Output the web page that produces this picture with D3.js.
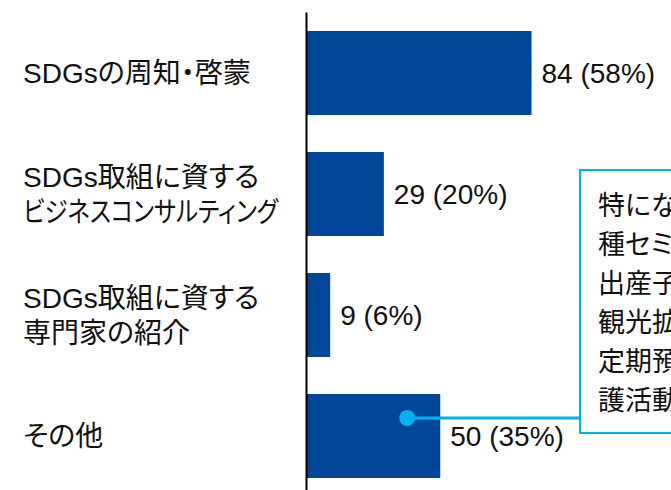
<!DOCTYPE html>
<html>
<head>
<meta charset="utf-8">
<script src="https://cdn.jsdelivr.net/npm/d3@7"></script>
<style>
  html, body { margin: 0; padding: 0; background: #fff; overflow: hidden; }
  svg { display: block; }
  text { font-family: "Liberation Sans", Arial, "Noto Sans CJK JP", sans-serif; font-feature-settings: "palt"; fill: #111; }
</style>
</head>
<body>
<svg width="671" height="490"></svg>
<script>
// data
var categories = ["SDGsの周知・啓蒙", "SDGs取組に資する\nビジネスコンサルティング", "SDGs取組に資する\n専門家の紹介", "その他"];
var counts = [84, 29, 9, 50];
var percents = [58, 20, 6, 35];
var noteLines = ["特になし、各", "種セミナー開催、", "出産子育て支援、", "観光拡大支援、", "定期預金、介", "護活動など"];

var svg = d3.select("svg"),
    width = +svg.attr("width"),
    height = +svg.attr("height");

var barColor = "#00479a",
    noteColor = "#00b0f0";

var xScale = d3.scaleLinear().domain([0, 100]).range([306, 306 + 268.5]);
var yScale = d3.scaleBand()
    .domain(categories)
    .range([12.5, 496.5])
    .paddingInner(0.306)
    .paddingOuter(0.153);

var data = categories.map(function(c, i){
    return {cat: c, n: counts[i], pct: percents[i]};
});

// bars
svg.selectAll(".bar")
    .data(data)
    .enter()
    .append("rect")
    .attr("class", "bar")
    .attr("x", xScale(0))
    .attr("y", function(d){ return yScale(d.cat) })
    .attr("width", function(d){ return xScale(d.n) - xScale(0) })
    .attr("height", yScale.bandwidth())
    .attr("fill", barColor);

// value labels
svg.selectAll(".val")
    .data(data)
    .enter()
    .append("text")
    .attr("class", "val")
    .attr("x", function(d){ return xScale(d.n) + 10 })
    .attr("y", function(d){ return yScale(d.cat) + yScale.bandwidth() / 2 })
    .attr("dy", "0.36em")
    .attr("font-size", "28px")
    .text(function(d){ return d.n + " (" + d.pct + "%)" });

// axis line (no ticks)
var axis = svg.append("g")
    .attr("transform", "translate(" + xScale(0) + ",0)")
    .call(d3.axisLeft(d3.scaleLinear().range([12, height])).ticks(0).tickSizeOuter(0));
axis.select(".domain").attr("stroke", "#000").attr("stroke-width", 2);

// category labels, may wrap on two lines
var lineGap = 35,
    maxLabel = 255;
svg.selectAll(".cat")
    .data(data)
    .enter()
    .append("text")
    .attr("class", "cat")
    .attr("x", 23)
    .attr("font-size", "28px")
    .each(function(d){
        var lines = d.cat.split("\n");
        var mid = yScale(d.cat) + yScale.bandwidth() / 2;
        var t = d3.select(this);
        lines.forEach(function(l, i){
            var ts = t.append("tspan")
                .attr("x", 23)
                .attr("y", mid + (i - (lines.length - 1) / 2) * lineGap)
                .attr("dy", "0.36em")
                .text(l);
            // squeeze long katakana line so it stays left of the axis
            if (ts.node().getComputedTextLength() > maxLabel) {
                ts.attr("textLength", maxLabel).attr("lengthAdjust", "spacingAndGlyphs");
            }
        });
    });

// callout for その他
var other = data[3];
var dotX = xScale(other.n) - 33,
    dotY = yScale(other.cat) + 24;
var boxX = 580, boxY = 170, boxH = 263;

svg.append("line")
    .attr("x1", dotX).attr("y1", dotY)
    .attr("x2", boxX).attr("y2", dotY)
    .attr("stroke", noteColor)
    .attr("stroke-width", 3);

svg.append("circle")
    .attr("cx", dotX)
    .attr("cy", dotY)
    .attr("r", 8)
    .attr("fill", noteColor);

svg.append("rect")
    .attr("x", boxX)
    .attr("y", boxY)
    .attr("width", 300)
    .attr("height", boxH)
    .attr("fill", "#fff")
    .attr("stroke", noteColor)
    .attr("stroke-width", 2);

svg.append("g")
    .selectAll("text")
    .data(noteLines)
    .enter()
    .append("text")
    .attr("x", boxX + 18)
    .attr("y", function(d, i){ return 205 + i * 39 })
    .attr("dy", "0.36em")
    .attr("font-size", "27px")
    .text(function(d){ return d });
</script>
</body>
</html>
